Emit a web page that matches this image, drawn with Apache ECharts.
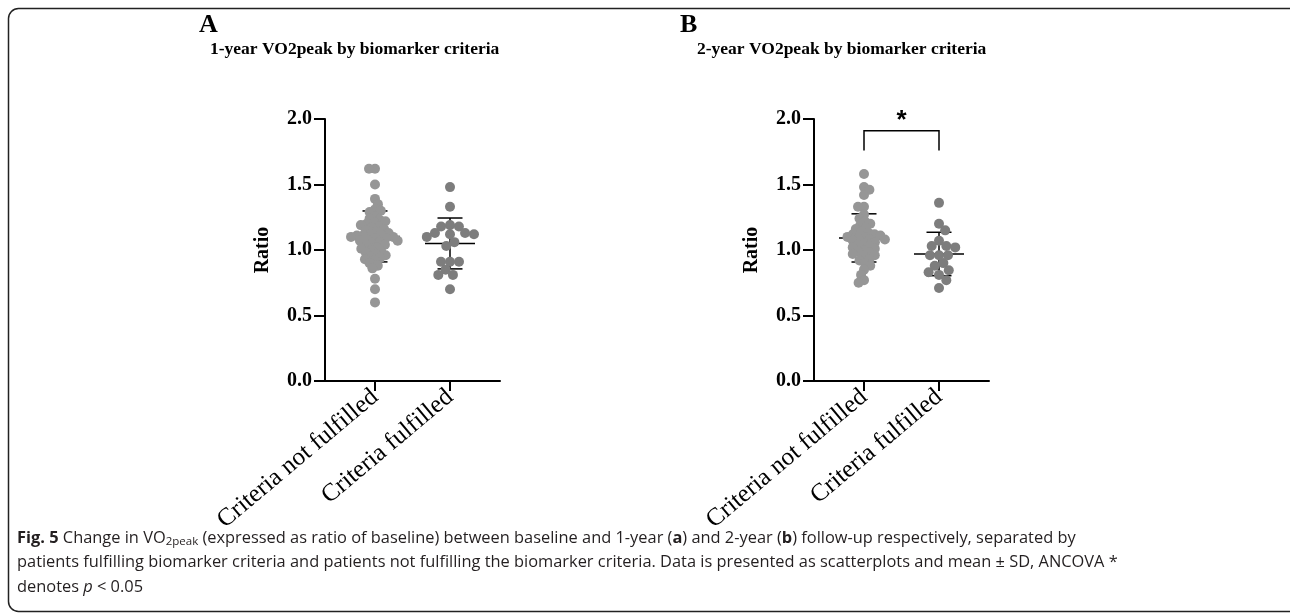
<!DOCTYPE html>
<html>
<head>
<meta charset="utf-8">
<script src="https://cdn.jsdelivr.net/npm/echarts@6/dist/echarts.min.js"></script>
<style>
html, body { margin: 0; padding: 0; background: #fff; }
#main { width: 1290px; height: 616px; }
</style>
</head>
<body>
<div id="main"></div>
<script>
// data
var categories = ['Criteria not fulfilled', 'Criteria fulfilled'];
var yTicks = [0, 0.5, 1.0, 1.5, 2.0];

var year1NotFulfilled = [1.62, 1.62, 1.50, 1.39, 1.35, 1.31, 1.29, 1.30, 1.26, 1.24,
    1.23, 1.22, 1.21, 1.20, 1.19, 1.18, 1.17, 1.16, 1.15, 1.14,
    1.13, 1.12, 1.12, 1.11, 1.11, 1.10, 1.10, 1.09, 1.09, 1.08,
    1.07, 1.07, 1.06, 1.05, 1.04, 1.03, 1.02, 1.01, 1.00, 0.99,
    0.98, 0.97, 0.96, 0.95, 0.94, 0.93, 0.92, 0.90, 0.88, 0.86,
    0.78, 0.70, 0.60];
var year1Fulfilled = [1.48, 1.33, 1.19, 1.18, 1.18, 1.13, 1.13, 1.12, 1.12, 1.10,
    1.06, 1.03, 0.91, 0.91, 0.91, 0.85, 0.81, 0.81, 0.70];

var year2NotFulfilled = [1.58, 1.48, 1.46, 1.42, 1.33, 1.33, 1.27, 1.24, 1.22, 1.20,
    1.19, 1.17, 1.16, 1.14, 1.13, 1.12, 1.12, 1.11, 1.10, 1.10,
    1.09, 1.08, 1.08, 1.07, 1.06, 1.05, 1.04, 1.03, 1.02, 1.01,
    1.00, 0.99, 0.98, 0.97, 0.96, 0.95, 0.93, 0.92, 0.90, 0.88,
    0.85, 0.81, 0.77, 0.75];
var year2Fulfilled = [1.36, 1.20, 1.15, 1.07, 1.03, 1.03, 1.02, 0.96, 0.96, 0.96,
    0.90, 0.88, 0.845, 0.83, 0.81, 0.77, 0.71];

var titles = ['1-year VO2peak by biomarker criteria', '2-year VO2peak by biomarker criteria'];
var panelLetters = ['A', 'B'];
var sigBracket = [1.76, 1.91]; // leg bottom, bar height (ratio units)

// layout
var catPos = [2, 5];
var X_MAX = 7;
var GRID_W = 175, GRID_H = 262;
var PX_X = GRID_W / X_MAX, PX_Y = GRID_H / 2;
var serif = 'Liberation Serif';
var sans = 'Open Sans';
var colLight = '#969696', colDark = '#7d7d7d';

// simple beeswarm so dots don't pile up on one line
function swarm(values, center, D) {
    var sorted = values.slice().sort(function (a, b) { return b - a; });
    var placed = [];
    var out = [];
    sorted.forEach(function (v, k) {
        var y = v * PX_Y;
        var near = placed.filter(function (p) { return Math.abs(p.y - y) < D; });
        var cands = [0];
        near.forEach(function (p) {
            var dx = Math.sqrt(D * D - (p.y - y) * (p.y - y));
            cands.push(p.x - dx, p.x + dx);
        });
        var ok = cands.filter(function (c) {
            return near.every(function (p) {
                return (c - p.x) * (c - p.x) + (y - p.y) * (y - p.y) >= D * D - 0.01;
            });
        });
        ok.sort(function (a, b) {
            return (Math.abs(a) - Math.abs(b)) || (k % 2 ? a - b : b - a);
        });
        placed.push({ x: ok[0], y: y });
        out.push([center + ok[0] / PX_X, v]);
    });
    return out;
}

function meanSd(values, center) {
    var m = values.reduce(function (s, v) { return s + v; }, 0) / values.length;
    var ss = values.reduce(function (s, v) { return s + (v - m) * (v - m); }, 0);
    var sd = Math.sqrt(ss / (values.length - 1));
    return [center, m, m - sd, m + sd];
}

function renderErrorBar(params, api) {
    var c = api.coord([api.value(0), api.value(1)]);
    var lo = api.coord([api.value(0), api.value(2)]);
    var hi = api.coord([api.value(0), api.value(3)]);
    var st = { stroke: '#000', lineWidth: 1.5 };
    return {
        type: 'group',
        children: [
            { type: 'line', shape: { x1: c[0], y1: hi[1], x2: c[0], y2: lo[1] }, style: st },
            { type: 'line', shape: { x1: c[0] - 25, y1: c[1], x2: c[0] + 25, y2: c[1] }, style: st },
            { type: 'line', shape: { x1: c[0] - 12.5, y1: hi[1], x2: c[0] + 12.5, y2: hi[1] }, style: st },
            { type: 'line', shape: { x1: c[0] - 12.5, y1: lo[1], x2: c[0] + 12.5, y2: lo[1] }, style: st }
        ]
    };
}

function renderBracket(params, api) {
    var a = api.coord([api.value(0), api.value(2)]);
    var b = api.coord([api.value(1), api.value(3)]);
    var star = api.coord([(api.value(0) + api.value(1)) / 2, 2.0]);
    return {
        type: 'group',
        children: [
            { type: 'polyline', shape: { points: [[a[0], a[1]], [a[0], b[1]], [b[0], b[1]], [b[0], a[1]]] },
              style: { stroke: '#000', lineWidth: 1.5, fill: null } },
            { type: 'text', x: star[0], y: star[1] + 2,
              style: { text: '*', fontSize: 26, fontWeight: 'bold', fontFamily: 'Liberation Sans',
                       fill: '#000', align: 'center', verticalAlign: 'middle' } }
        ]
    };
}

var chart = echarts.init(document.getElementById('main'));

var gridLefts = [325, 814];
var grids = [], xAxes = [], yAxes = [], series = [];
var panels = [[year1NotFulfilled, year1Fulfilled], [year2NotFulfilled, year2Fulfilled]];

panels.forEach(function (groups, i) {
    grids.push({ left: gridLefts[i], top: 119, width: GRID_W, height: GRID_H });
    xAxes.push({
        type: 'value', gridIndex: i, min: 0, max: X_MAX,
        splitLine: { show: false },
        axisLine: { lineStyle: { color: '#000', width: 2 } },
        axisTick: { customValues: catPos, length: 10, lineStyle: { color: '#000', width: 2 } },
        axisLabel: {
            customValues: catPos, rotate: 40, margin: 13,
            color: '#000', fontFamily: serif, fontSize: 25,
            formatter: function (v) { return categories[catPos.indexOf(v)]; }
        }
    });
    yAxes.push({
        type: 'value', gridIndex: i, min: 0, max: 2, interval: 0.5,
        name: 'Ratio', nameLocation: 'middle', nameGap: 52,
        nameTextStyle: { color: '#000', fontFamily: serif, fontWeight: 'bold', fontSize: 20 },
        splitLine: { show: false },
        axisLine: { show: true, lineStyle: { color: '#000', width: 2 } },
        axisTick: { show: true, length: 11, lineStyle: { color: '#000', width: 2 } },
        axisLabel: {
            margin: 13, color: '#000', fontFamily: serif, fontWeight: 'bold', fontSize: 20,
            formatter: function (v) { return v.toFixed(1); }
        }
    });
    series.push({
        type: 'custom', xAxisIndex: i, yAxisIndex: i, z: 2,
        renderItem: renderErrorBar,
        data: [meanSd(groups[0], catPos[0]), meanSd(groups[1], catPos[1])]
    });
    series.push({
        type: 'scatter', xAxisIndex: i, yAxisIndex: i, z: 3, symbolSize: 10,
        itemStyle: { color: colLight, opacity: 1 },
        data: swarm(groups[0], catPos[0], 6)
    });
    series.push({
        type: 'scatter', xAxisIndex: i, yAxisIndex: i, z: 3, symbolSize: 10,
        itemStyle: { color: colDark, opacity: 1 },
        data: swarm(groups[1], catPos[1], 9)
    });
});

series.push({
    type: 'custom', xAxisIndex: 1, yAxisIndex: 1, z: 4, clip: false,
    renderItem: renderBracket,
    data: [[catPos[0], catPos[1], sigBracket[0], sigBracket[1]]]
});

var capSize = 16.4;
var capRich = {
    n: { fontFamily: sans, fontSize: capSize, fill: '#231f20' },
    b: { fontFamily: sans, fontSize: capSize, fontWeight: 'bold', fill: '#231f20' },
    s: { fontFamily: sans, fontSize: 11.5, fill: '#231f20', verticalAlign: 'bottom', padding: [7, 0, 0, 0] },
    i: { fontFamily: sans, fontSize: capSize, fontStyle: 'italic', fill: '#231f20' }
};
var captionLines = [
    '{b|Fig. 5}{n| Change in VO}{s|2peak}{n| (expressed as ratio of baseline) between baseline and 1-year (}{b|a}{n|) and 2-year (}{b|b}{n|) follow-up respectively, separated by}',
    '{n|patients fulfilling biomarker criteria and patients not fulfilling the biomarker criteria. Data is presented as scatterplots and mean ± SD, ANCOVA *}',
    '{n|denotes }{i|p}{n| < 0.05}'
];

var graphics = [
    { type: 'rect', shape: { x: 8.5, y: 8.5, width: 1300, height: 603, r: 10 },
      style: { fill: null, stroke: '#222', lineWidth: 1.5 }, silent: true }
];
panelLetters.forEach(function (l, i) {
    var x0 = [199, 680][i];
    graphics.push({ type: 'text', x: x0, y: 25,
        style: { text: l, fontFamily: serif, fontWeight: 'bold', fontSize: 26, fill: '#000', verticalAlign: 'middle' } });
    graphics.push({ type: 'text', x: x0 + [11, 17][i], y: 49,
        style: { text: titles[i], fontFamily: serif, fontWeight: 'bold', fontSize: 17.5, fill: '#000', verticalAlign: 'middle' } });
});
captionLines.forEach(function (t, k) {
    graphics.push({ type: 'text', x: 17, y: 538 + k * 24.5,
        style: { text: t, rich: capRich, fontFamily: sans, fontSize: capSize, fill: '#231f20', verticalAlign: 'middle' } });
});

var option = {
    animation: false,
    backgroundColor: '#fff',
    grid: grids,
    xAxis: xAxes,
    yAxis: yAxes,
    series: series,
    graphic: graphics
};
chart.setOption(option);
</script>
</body>
</html>
